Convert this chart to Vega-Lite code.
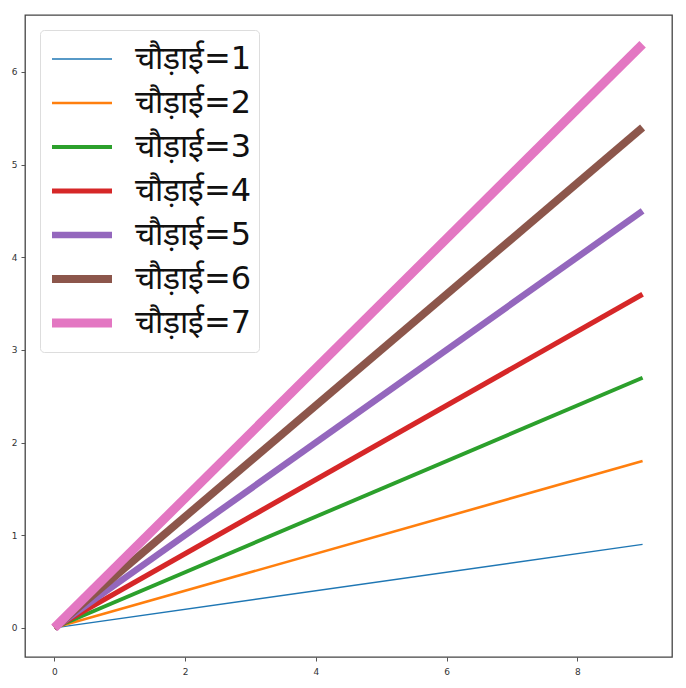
{
  "$schema": "https://vega.github.io/schema/vega-lite/v6.json",
  "autosize": {"type": "none"},
  "padding": {"left": 25, "top": 15, "right": 14, "bottom": 31},
  "width": 647,
  "height": 642,
  "background": "white",
  "config": {
    "view": {"stroke": "#444", "strokeWidth": 1.3},
    "font": "DejaVu Sans"
  },
  "data": {
    "values": [
      {"x": 0, "y": 0, "label": "चौड़ाई=1"}, {"x": 9, "y": 0.9, "label": "चौड़ाई=1"},
      {"x": 0, "y": 0, "label": "चौड़ाई=2"}, {"x": 9, "y": 1.8, "label": "चौड़ाई=2"},
      {"x": 0, "y": 0, "label": "चौड़ाई=3"}, {"x": 9, "y": 2.7, "label": "चौड़ाई=3"},
      {"x": 0, "y": 0, "label": "चौड़ाई=4"}, {"x": 9, "y": 3.6, "label": "चौड़ाई=4"},
      {"x": 0, "y": 0, "label": "चौड़ाई=5"}, {"x": 9, "y": 4.5, "label": "चौड़ाई=5"},
      {"x": 0, "y": 0, "label": "चौड़ाई=6"}, {"x": 9, "y": 5.4, "label": "चौड़ाई=6"},
      {"x": 0, "y": 0, "label": "चौड़ाई=7"}, {"x": 9, "y": 6.3, "label": "चौड़ाई=7"}
    ]
  },
  "mark": {"type": "line", "strokeCap": "butt", "clip": true},
  "encoding": {
    "x": {
      "field": "x", "type": "quantitative",
      "scale": {"domain": [-0.45, 9.45], "nice": false, "zero": false},
      "axis": {"values": [0, 2, 4, 6, 8], "title": null, "grid": false, "domain": false,
               "tickColor": "#555", "tickSize": 4, "labelFontSize": 9, "labelColor": "#333", "labelPadding": 6, "format": "d"}
    },
    "y": {
      "field": "y", "type": "quantitative",
      "scale": {"domain": [-0.315, 6.615], "nice": false, "zero": false},
      "axis": {"values": [0, 1, 2, 3, 4, 5, 6], "title": null, "grid": false, "domain": false,
               "tickColor": "#555", "tickSize": 4, "labelFontSize": 9, "labelColor": "#333", "labelPadding": 4, "format": "d"}
    },
    "color": {
      "field": "label", "type": "ordinal",
      "scale": {"type": "ordinal", "range": ["#1f77b4", "#ff7f0e", "#2ca02c", "#d62728", "#9467bd", "#8c564b", "#e377c2"]},
      "legend": {
        "title": null, "orient": "top-left", "offset": 15,
        "symbolType": "stroke", "symbolSize": 3600,
        "labelFontSize": 32, "labelColor": "#111", "labelOffset": 18,
        "rowPadding": 0, "clipHeight": 44, "padding": 7,
        "fillColor": "white", "strokeColor": "#ddd", "cornerRadius": 4
      }
    },
    "strokeWidth": {
      "field": "label", "type": "ordinal",
      "scale": {"type": "ordinal", "range": [1.3, 2.6, 3.9, 5.2, 6.5, 7.8, 9.1]},
      "legend": {
        "title": null, "orient": "top-left", "offset": 15,
        "symbolType": "stroke", "symbolSize": 3600,
        "labelFontSize": 32, "labelColor": "#111", "labelOffset": 18,
        "rowPadding": 0, "clipHeight": 44, "padding": 7,
        "fillColor": "white", "strokeColor": "#ddd", "cornerRadius": 4
      }
    }
  }
}
